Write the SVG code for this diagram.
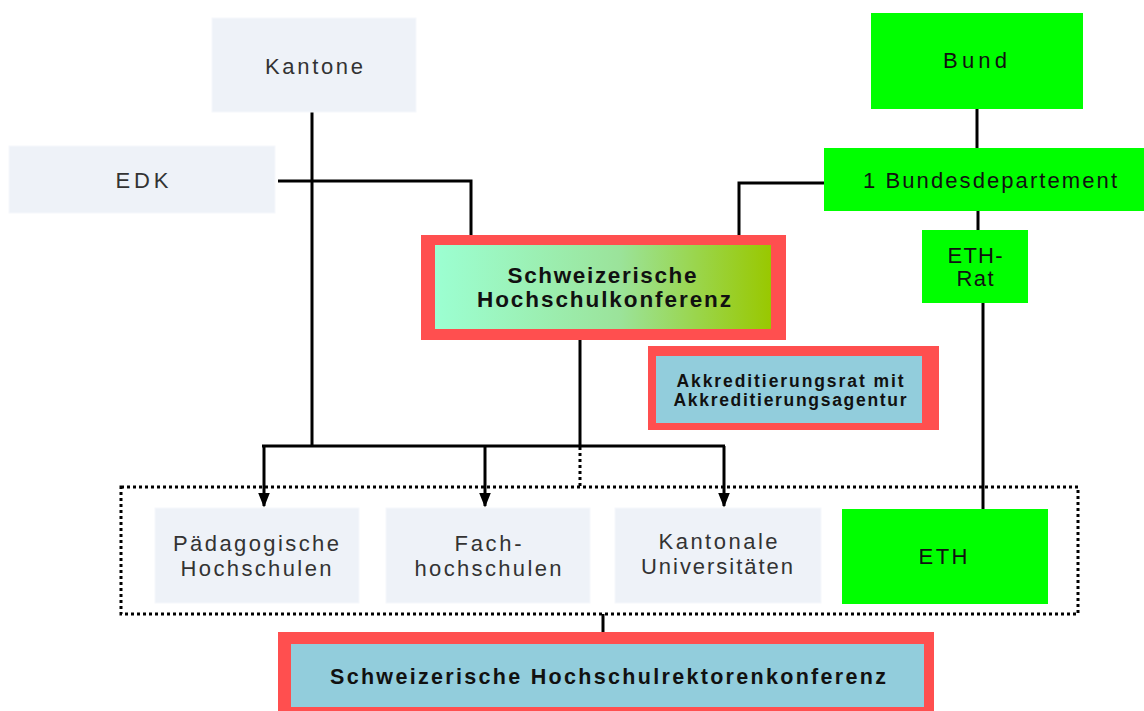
<svg xmlns="http://www.w3.org/2000/svg" width="1144" height="711" viewBox="0 0 1144 711">
<style>
.light{fill:#eef2f8;stroke:#f6f8fc;stroke-width:1}
.green{fill:#00ff00}
.red{fill:#ff4f4f}
.blue{fill:#92cddc}
.t{font-family:"Liberation Sans",Arial,sans-serif;font-size:22px;fill:#333;text-anchor:middle}
.tg{font-family:"Liberation Sans",Arial,sans-serif;font-size:22px;fill:#111;text-anchor:middle}
.b{font-family:"Liberation Sans",Arial,sans-serif;font-weight:bold;fill:#111;text-anchor:middle}
.ln{stroke:#000;stroke-width:3;fill:none}
.dot{stroke:#000;stroke-width:3;fill:none;stroke-dasharray:3 3}
</style>
<defs>
<linearGradient id="shk" x1="0" y1="0" x2="1" y2="0">
<stop offset="0" stop-color="#9cffd2"/>
<stop offset="0.55" stop-color="#9be39a"/>
<stop offset="1" stop-color="#99c800"/>
</linearGradient>
<marker id="arr" markerWidth="5" markerHeight="4" refX="4.5" refY="2" orient="auto" markerUnits="strokeWidth">
<path d="M0,0 L5,2 L0,4 z" fill="#000"/>
</marker>
</defs>
<rect width="1144" height="711" fill="#fff"/>

<g id="connectors">
<path class="ln" d="M312,112 V446"/>
<path class="ln" d="M278,181 H471 V236"/>
<path class="ln" d="M977,109 V148"/>
<path class="ln" d="M824,183 H739 V236"/>
<path class="ln" d="M978,211 V230"/>
<path class="ln" d="M983,303 V509"/>
<path class="ln" d="M580,340 V446"/>
<path class="dot" d="M580,447 V487"/>
<path class="ln" d="M262,446 H725"/>
<path class="ln" d="M264,446 V506" marker-end="url(#arr)"/>
<path class="ln" d="M485,446 V506" marker-end="url(#arr)"/>
<path class="ln" d="M724,446 V506" marker-end="url(#arr)"/>
<path class="ln" d="M603,614 V644"/>
</g>

<g id="group-box">
<rect class="dot" x="121" y="487" width="957" height="127"/>
</g>

<g id="kantone">
<rect class="light" x="212" y="18" width="204" height="94"/>
<text class="t" x="314" y="74" textLength="98" lengthAdjust="spacing">Kantone</text>
</g>

<g id="edk">
<rect class="light" x="9" y="146" width="266" height="67"/>
<text class="t" x="142" y="188" textLength="53" lengthAdjust="spacing">EDK</text>
</g>

<g id="bund">
<rect class="green" x="871" y="13" width="212" height="96"/>
<text class="tg" x="975" y="68" textLength="64" lengthAdjust="spacing">Bund</text>
</g>

<g id="bundesdepartement">
<rect class="green" x="824" y="148" width="320" height="63"/>
<text class="tg" x="990" y="188" textLength="254" lengthAdjust="spacing">1 Bundesdepartement</text>
</g>

<g id="eth-rat">
<rect class="green" x="922" y="230" width="106" height="73"/>
<text class="tg" x="975" y="263" font-size="20" textLength="55" lengthAdjust="spacing">ETH-</text>
<text class="tg" x="975" y="286" font-size="20" textLength="37" lengthAdjust="spacing">Rat</text>
</g>

<g id="shk">
<rect class="red" x="421" y="235" width="365" height="105"/>
<rect x="435" y="245" width="336" height="84" fill="url(#shk)"/>
<text class="b" x="602" y="283" font-size="22.5" textLength="189" lengthAdjust="spacing">Schweizerische</text>
<text class="b" x="604" y="307" font-size="22.5" textLength="254" lengthAdjust="spacing">Hochschulkonferenz</text>
</g>

<g id="akkreditierung">
<rect class="red" x="648" y="346" width="291" height="84"/>
<rect class="blue" x="656" y="356" width="266" height="67"/>
<text class="b" x="790" y="387" font-size="17.5" textLength="227" lengthAdjust="spacing">Akkreditierungsrat mit</text>
<text class="b" x="790" y="406" font-size="17.5" textLength="233" lengthAdjust="spacing">Akkreditierungsagentur</text>
</g>

<g id="paedagogische">
<rect class="light" x="155" y="508" width="204" height="95"/>
<text class="t" x="256" y="551" textLength="166" lengthAdjust="spacing">Pädagogische</text>
<text class="t" x="256" y="576" textLength="151" lengthAdjust="spacing">Hochschulen</text>
</g>

<g id="fachhochschulen">
<rect class="light" x="386" y="508" width="204" height="95"/>
<text class="t" x="488" y="551" textLength="67" lengthAdjust="spacing">Fach-</text>
<text class="t" x="488" y="576" textLength="147" lengthAdjust="spacing">hochschulen</text>
</g>

<g id="universitaeten">
<rect class="light" x="615" y="508" width="206" height="95"/>
<text class="t" x="718" y="549" textLength="119" lengthAdjust="spacing">Kantonale</text>
<text class="t" x="717" y="574" textLength="152" lengthAdjust="spacing">Universitäten</text>
</g>

<g id="eth">
<rect class="green" x="842" y="509" width="206" height="95"/>
<text class="tg" x="943" y="564" textLength="49" lengthAdjust="spacing">ETH</text>
</g>

<g id="shrk">
<rect class="red" x="278" y="632" width="656" height="79"/>
<rect class="blue" x="291" y="644" width="633" height="63"/>
<text class="b" x="608" y="684" font-size="21.5" textLength="556" lengthAdjust="spacing">Schweizerische Hochschulrektorenkonferenz</text>
</g>
</svg>
